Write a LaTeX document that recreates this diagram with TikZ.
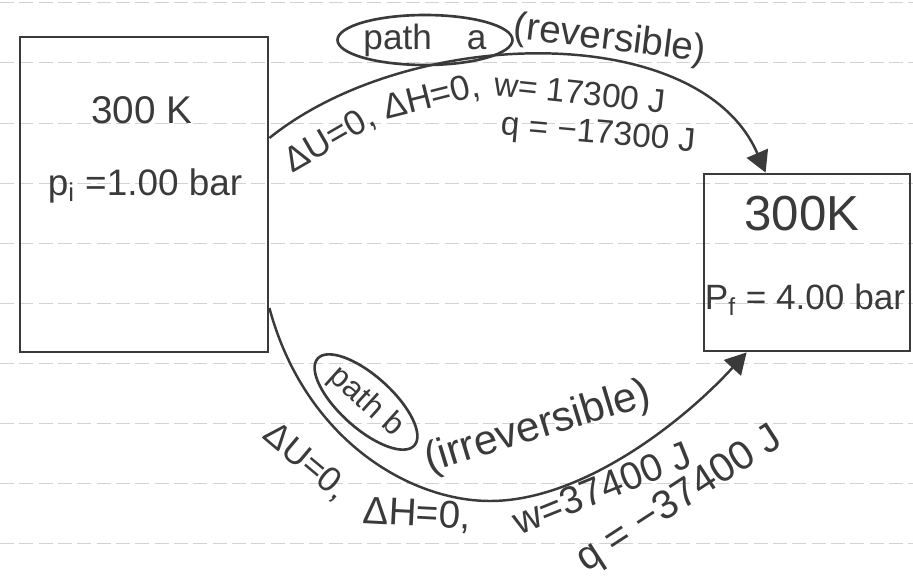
\documentclass[tikz,border=0pt]{standalone}
\usepackage{fontspec}
\setmainfont{Liberation Sans}
\usetikzlibrary{arrows.meta,shapes.geometric}
\definecolor{ink}{HTML}{3A3A3A}
\definecolor{paperrule}{HTML}{D2D2D2}
\begin{document}
\begin{tikzpicture}[x=0.02cm,y=-0.02cm,
  box/.style={draw=ink,line width=1.6pt,inner sep=0pt},
  txt/.style={text=ink,inner sep=0pt},
  fs/.style={font=\fontsize{#1}{#1}\selectfont},
  oval/.style={draw=ink,line width=1.5pt,ellipse,inner sep=0pt},
  conn/.style={draw=ink,line width=1.4pt,-{Triangle[length=12pt,width=13pt]}},
  ruling/.style={draw=paperrule,line width=0.5pt,dash pattern=on 8pt off 3pt}]
\useasboundingbox (0,0) rectangle (913,587);
\foreach \yy in {2,62,123,183,243,303,363,423,483,543}
  \draw[ruling] (0,\yy) -- (913,\yy);
% boxes
\node[box,minimum width=4.96cm,minimum height=6.3cm] (L) at (144,194.5) {};
\node[box,minimum width=4.12cm,minimum height=3.54cm] (R) at (807,262.5) {};
\node[txt,fs=22] (LT) at (142,110) {300 K};
\node[txt,fs=21] (LP) at (145,186) {p\textsubscript{i} =1.00 bar};
\node[txt,fs=28] (RT) at (802,214) {300K};
\node[txt,fs=20] (RP) at (805,300) {P\textsubscript{f} = 4.00 bar};
% path a
\node[oval,txt,fs=20,minimum width=3.5cm,minimum height=1.0cm] (pa) at (425,40) {path\quad a};
\node[txt,fs=22,rotate=-7] (ra) at (610,40) {(reversible)};
\node[txt,fs=20,rotate=30] (ua) at (330,140) {ΔU=0,};
\node[txt,fs=20,rotate=14] (ha) at (432,98) {ΔH=0,};
\node[txt,fs=19,rotate=-6] (wa) at (580,93) {w= 17300 J};
\node[txt,fs=19,rotate=-5] (qa) at (598,135) {q = −17300 J};
% path b
\node[oval,txt,fs=18,rotate=-42,minimum width=2.6cm,minimum height=1.05cm] (pb) at (366,402) {path b};
\node[txt,fs=24,rotate=17] (rb) at (538,428) {(irreversible)};
\node[txt,fs=20,rotate=-40] (ub) at (306,462) {ΔU=0,};
\node[txt,fs=22,rotate=-3] (hb) at (417,515) {ΔH=0,};
\node[txt,fs=22,rotate=22] (wb) at (602,488) {w=37400 J};
\node[txt,fs=23,rotate=33] (qb) at (680,500) {q = −37400 J};
% connectors
\draw[conn] ([yshift=1.13cm]L.east) .. controls (410,25) and (700,20) .. ([xshift=1.26cm]R.north west);
\coordinate (lowb) at (490,501);
\draw[conn] ([yshift=-2.27cm]L.east) .. controls (305,440) and (410,501) .. (lowb)
  .. controls (580,501) and (680,425) .. ([xshift=0.88cm]R.south west);
\end{tikzpicture}
\end{document}
